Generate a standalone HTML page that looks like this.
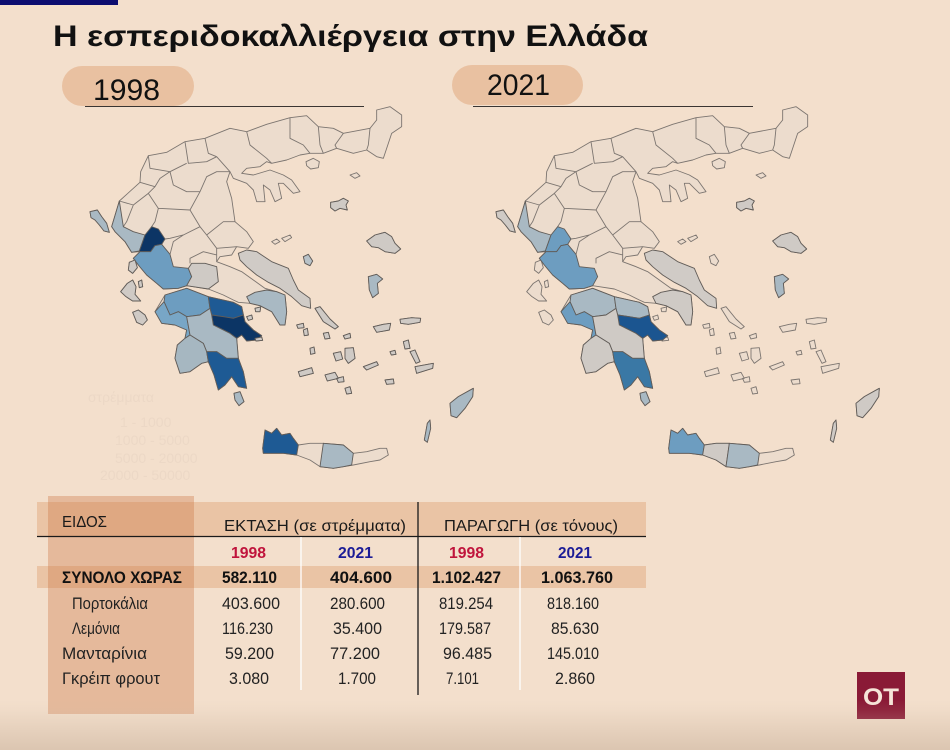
<!DOCTYPE html>
<html><head><meta charset="utf-8">
<style>
html,body{margin:0;padding:0;background:#f3dfcc;}
svg{display:block}
</style></head>
<body>
<svg width="950" height="750" viewBox="0 0 950 750" xmlns="http://www.w3.org/2000/svg" style="font-family:'Liberation Sans','Noto Sans CJK SC',sans-serif">
<defs>
  <linearGradient id="fade" x1="0" y1="0" x2="0" y2="1">
    <stop offset="0" stop-color="rgb(205,182,160)" stop-opacity="0"/>
    <stop offset="0.2" stop-color="rgb(205,182,160)" stop-opacity="0.08"/>
    <stop offset="1" stop-color="rgb(205,182,160)" stop-opacity="0.62"/>
  </linearGradient>
  <path id="mainland" d="M88,318 L150,262 L152,230 L175,182 L230,172 L285,140 L345,130 L420,100 L470,110 L530,88 L600,68 L650,62 L685,95 L730,100 L760,115 L840,100 L860,75 L860,45 L900,35 L935,60 L935,95 L905,115 L890,160 L880,190 L860,185 L830,165 L790,175 L740,160 L700,175 L660,175 L630,180 L590,195 L545,205 L530,200 L510,215 L470,220 L455,235 L490,240 L540,225 L580,240 L605,255 L630,290 L610,295 L580,265 L565,265 L575,310 L555,320 L540,285 L520,270 L525,320 L500,320 L490,285 L470,265 L430,250 L420,230 L410,260 L425,310 L435,380 L470,410 L490,440 L475,460 L440,455 L425,480 L390,485 L380,500 L420,515 L455,530 L490,555 L525,580 L560,590 L585,600 L590,650 L585,690 L570,690 L545,650 L510,632 L480,625 L445,622 L430,615 L400,600 L355,582 L310,575 L290,572 L265,580 L220,582 L200,565 L170,540 L145,510 L130,490 L150,470 L125,472 L105,440 L75,410 L65,395 Z"/>
  <path id="thesprotia" d="M65,395 L75,410 L105,440 L125,472 L148,468 L158,440 L165,420 L130,410 L100,395 L88,318 Z"/>
  <path id="arta" d="M165,420 L185,395 L205,402 L225,432 L215,448 L195,452 L182,470 L150,470 L148,468 L158,440 Z"/>
  <path id="aetolia" d="M150,470 L182,470 L195,452 L215,448 L240,478 L250,515 L295,520 L305,545 L290,572 L265,580 L220,582 L200,565 L170,540 L145,510 L130,490 Z"/>
  <path id="fokida" d="M295,520 L305,505 L345,505 L380,515 L385,560 L355,582 L310,575 L290,572 L305,545 Z"/>
  <path id="evia" d="M445,475 L470,465 L500,470 L545,500 L595,520 L610,555 L625,585 L660,610 L662,640 L635,632 L605,605 L570,580 L535,562 L500,540 L470,515 L450,495 Z"/>
  <path id="attica" d="M480,625 L470,605 L495,592 L530,585 L560,590 L585,600 L590,650 L585,690 L570,690 L545,650 L510,632 Z"/>
  <path id="pelop" d="M195,650 L225,600 L290,580 L355,605 L430,622 L455,635 L465,680 L490,705 L515,722 L500,735 L470,738 L455,720 L440,730 L445,790 L460,830 L470,880 L445,875 L425,845 L405,870 L385,885 L372,840 L355,800 L335,805 L300,830 L270,835 L255,790 L262,750 L285,730 L290,705 L255,690 L215,685 Z"/>
  <path id="achaia" d="M225,600 L290,580 L355,605 L360,640 L330,660 L290,665 L265,650 L240,660 L222,620 Z"/>
  <path id="ilia" d="M195,650 L222,620 L240,660 L265,650 L290,665 L300,720 L285,730 L290,705 L255,690 L215,685 Z"/>
  <path id="corinthia" d="M355,605 L430,622 L455,635 L460,660 L430,670 L400,665 L365,660 L360,640 Z"/>
  <path id="argolida" d="M365,660 L400,665 L430,670 L460,660 L465,680 L490,705 L515,722 L500,735 L470,738 L455,720 L440,730 L420,715 L390,700 L370,690 Z"/>
  <path id="arcadia" d="M290,665 L330,660 L360,640 L365,660 L370,690 L390,700 L420,715 L440,730 L445,790 L410,790 L380,770 L350,770 L340,745 L300,720 Z"/>
  <path id="messinia" d="M262,750 L285,730 L300,720 L340,745 L350,770 L355,800 L335,805 L300,830 L270,835 L255,790 Z"/>
  <path id="laconia" d="M350,770 L380,770 L410,790 L445,790 L460,830 L470,880 L445,875 L425,845 L405,870 L385,885 L372,840 L355,800 Z"/>
  <path id="crete" d="M518,1060 L525,1005 L545,1015 L560,1000 L575,1020 L600,1015 L610,1030 L625,1050 L660,1045 L700,1045 L760,1050 L790,1075 L830,1070 L870,1060 L890,1060 L895,1080 L870,1095 L840,1100 L790,1110 L760,1115 L730,1120 L690,1115 L660,1095 L620,1080 L580,1075 L520,1075 Z"/>
  <path id="chania" d="M518,1060 L525,1005 L545,1015 L560,1000 L575,1020 L600,1015 L610,1030 L625,1050 L620,1080 L580,1075 L520,1075 Z"/>
  <path id="rethymno" d="M625,1050 L660,1045 L700,1045 L690,1115 L660,1095 L620,1080 Z"/>
  <path id="heraklion" d="M700,1045 L760,1050 L790,1075 L785,1110 L760,1115 L730,1120 L690,1115 Z"/>
  <path id="thasos" d="M648,200 L670,190 L688,200 L685,218 L662,222 L650,212 Z"/>
  <path id="samothrace" d="M780,240 L800,233 L810,243 L795,250 Z"/>
  <path id="lemnos" d="M722,322 L745,318 L760,310 L775,318 L768,330 L772,345 L750,340 L735,348 L722,338 Z"/>
  <path id="sporades" d="M545,440 L560,432 L570,440 L555,448 Z M575,430 L600,420 L605,428 L585,440 Z"/>
  <path id="skyros" d="M640,485 L655,478 L668,498 L660,512 L645,505 Z"/>
  <path id="lesvos" d="M830,438 L855,420 L885,412 L905,425 L915,445 L932,462 L915,475 L885,470 L865,458 L845,455 Z"/>
  <path id="chios" d="M835,545 L860,538 L878,552 L862,565 L865,595 L848,608 L838,585 Z"/>
  <path id="samos" d="M850,695 L880,688 L902,685 L898,705 L860,712 Z M930,673 L965,668 L992,670 L990,682 L955,688 L932,685 Z"/>
  <path id="cyclades" d="M675,640 L690,635 L720,672 L745,695 L735,702 L700,680 Z M700,715 L715,712 L720,730 L705,732 Z M760,722 L780,715 L782,728 L765,732 Z M660,760 L672,756 L675,775 L662,778 Z M765,760 L790,758 L795,790 L775,805 L765,790 Z M730,775 L752,770 L758,792 L738,798 Z M640,705 L652,700 L655,720 L643,722 Z M625,830 L665,818 L670,835 L630,845 Z M705,840 L735,832 L745,850 L712,858 Z M820,815 L860,800 L865,810 L830,825 Z M765,880 L780,875 L785,895 L770,897 Z M740,850 L760,845 L762,860 L745,862 Z M885,855 L910,852 L912,866 L890,868 Z M620,690 L640,685 L642,698 L624,700 Z"/>
  <path id="dodec" d="M940,740 L955,735 L960,760 L945,762 Z M960,770 L975,765 L990,800 L978,805 Z M975,815 L1030,805 L1028,820 L980,835 Z M900,770 L915,766 L918,778 L904,780 Z"/>
  <path id="rhodes" d="M1080,925 L1105,905 L1150,880 L1148,905 L1125,940 L1100,968 L1083,962 Z"/>
  <path id="karpathos" d="M1003,1035 L1012,985 L1020,975 L1022,1000 L1012,1042 Z"/>
  <path id="saronic" d="M470,665 L485,660 L488,672 L475,676 Z M495,640 L512,636 L510,650 L497,650 Z M495,730 L515,726 L518,736 L498,738 Z"/>
  <path id="kythira" d="M432,895 L450,890 L462,920 L447,932 L435,915 Z"/>
  <path id="corfu" d="M0,350 L22,345 L35,365 L50,385 L58,412 L42,408 L28,390 L15,375 L3,368 Z"/>
  <path id="lefkada" d="M118,502 L135,495 L142,518 L128,535 L115,525 Z"/>
  <path id="kefalonia" d="M92,590 L112,565 L128,555 L138,575 L135,598 L152,618 L128,618 L108,605 Z M145,560 L155,555 L158,575 L148,578 Z"/>
  <path id="zakynthos" d="M128,652 L145,645 L165,660 L172,675 L158,690 L140,682 Z"/>
  <path id="borders" fill="none" d="M150,262 L195,275 L210,250 L240,230 L290,205 M175,182 L180,220 L240,230 M285,140 L295,205 L350,200 L380,185 L420,230 M345,130 L355,175 L380,185 M470,110 L480,150 L530,190 L545,205 M600,68 L600,130 L640,150 L660,175 M685,95 L690,150 L700,175 M760,115 L735,150 L740,160 M840,100 L835,150 L830,165 M88,318 L130,330 L175,295 L195,275 M175,295 L205,340 L300,345 L330,290 L350,245 L380,230 L420,230 M205,340 L195,380 L185,395 M300,345 L330,395 L350,420 L380,460 L380,500 M330,395 L280,420 L240,430 L225,432 M240,478 L250,440 L280,420 M350,420 L400,380 L435,380 M380,460 L440,455 M300,505 L300,490 L340,470 L380,480 M130,330 L110,380 L100,395 M240,230 L250,270 L290,290 L330,290"/>
  <g id="mapbase" fill="#ecdccd" stroke="#7c7570" stroke-width="2.7" stroke-linejoin="round">
    <use href="#mainland"/><use href="#pelop"/><use href="#crete"/>
    <use href="#thasos"/><use href="#samothrace"/><use href="#lemnos"/><use href="#sporades"/>
    <use href="#skyros"/><use href="#lesvos"/><use href="#chios"/><use href="#samos"/>
    <use href="#cyclades"/><use href="#dodec"/><use href="#rhodes"/><use href="#karpathos"/>
    <use href="#saronic"/><use href="#kythira"/><use href="#corfu"/><use href="#lefkada"/>
    <use href="#kefalonia"/><use href="#zakynthos"/>
    <use href="#borders"/>
  </g>
</defs>

<rect x="0" y="0" width="950" height="750" fill="#f3dfcc"/>
<rect x="0" y="0" width="118" height="5" fill="#0d0d70"/>

<text x="53" y="46" font-size="30" font-weight="bold" fill="#111" textLength="595" lengthAdjust="spacingAndGlyphs">Η εσπεριδοκαλλιέργεια στην Ελλάδα</text>

<rect x="62" y="66" width="132" height="40" rx="20" fill="#e9c1a1"/>
<text x="93" y="100" font-size="30" fill="#111" textLength="67" lengthAdjust="spacingAndGlyphs">1998</text>
<line x1="85" y1="106.5" x2="364" y2="106.5" stroke="#3a3532" stroke-width="1"/>
<rect x="452" y="65" width="131" height="40" rx="20" fill="#e9c1a1"/>
<text x="487" y="95" font-size="30" fill="#111" textLength="63" lengthAdjust="spacingAndGlyphs">2021</text>
<line x1="473" y1="106.5" x2="753" y2="106.5" stroke="#3a3532" stroke-width="1"/>

<g fill="#ecd8c6" font-size="14">
  <text x="88" y="402">στρέμματα</text>
  <text x="120" y="427">1 - 1000</text>
  <text x="115" y="445">1000 - 5000</text>
  <text x="115" y="463">5000 - 20000</text>
  <text x="100" y="480">20000 - 50000</text>
</g>

<g transform="translate(90,95) scale(0.33333)">
  <use href="#mapbase"/>
  <g stroke="#615c58" stroke-width="2.7" stroke-linejoin="round">
    <use href="#corfu" fill="#a9b9c3"/>
    <use href="#thesprotia" fill="#a9b9c3"/>
    <use href="#arta" fill="#0c3565"/>
    <use href="#aetolia" fill="#6d9dc0"/>
    <use href="#fokida" fill="#cfcac5"/>
    <use href="#evia" fill="#d0cbc6"/>
    <use href="#attica" fill="#a9b9c3"/>
    <use href="#achaia" fill="#6d9dc0"/>
    <use href="#ilia" fill="#78a6c6"/>
    <use href="#corinthia" fill="#1e5a94"/>
    <use href="#argolida" fill="#0c3565"/>
    <use href="#arcadia" fill="#a9b9c3"/>
    <use href="#messinia" fill="#a6b7c1"/>
    <use href="#laconia" fill="#1e5a94"/>
    <use href="#chania" fill="#1e5a94"/>
    <use href="#heraklion" fill="#a9b9c3"/>
    <use href="#lefkada" fill="#cfcac5"/>
    <use href="#kefalonia" fill="#cfcac5"/>
    <use href="#zakynthos" fill="#cfcac5"/>
    <use href="#kythira" fill="#a9b9c3"/>
    <use href="#lemnos" fill="#cfcac5"/>
    <use href="#lesvos" fill="#cfcac5"/>
    <use href="#chios" fill="#a9b9c3"/>
    <use href="#samos" fill="#cfcac5"/>
    <use href="#rhodes" fill="#a9b9c3"/>
    <use href="#karpathos" fill="#a9b9c3"/>
    <use href="#cyclades" fill="#cfcac5"/>
    <use href="#dodec" fill="#cfcac5"/>
    <use href="#skyros" fill="#b8c2c8"/>
    <use href="#saronic" fill="#cfcac5"/>
  </g>
</g>

<g transform="translate(496,95) scale(0.33333)">
  <use href="#mapbase"/>
  <g stroke="#615c58" stroke-width="2.7" stroke-linejoin="round">
    <use href="#corfu" fill="#cfcac5"/>
    <use href="#thesprotia" fill="#a9b9c3"/>
    <use href="#arta" fill="#6d9dc0"/>
    <use href="#aetolia" fill="#6d9dc0"/>
    <use href="#evia" fill="#d0cbc6"/>
    <use href="#attica" fill="#cfcac5"/>
    <use href="#achaia" fill="#a9b9c3"/>
    <use href="#ilia" fill="#6d9dc0"/>
    <use href="#corinthia" fill="#a9b9c3"/>
    <use href="#argolida" fill="#1b5590"/>
    <use href="#arcadia" fill="#cfcac5"/>
    <use href="#messinia" fill="#cfcac5"/>
    <use href="#laconia" fill="#3a78a5"/>
    <use href="#chania" fill="#6d9dc0"/>
    <use href="#rethymno" fill="#cfcac5"/>
    <use href="#heraklion" fill="#a9b9c3"/>
    <use href="#kythira" fill="#a9b9c3"/>
    <use href="#lemnos" fill="#cfcac5"/>
    <use href="#lesvos" fill="#cfcac5"/>
    <use href="#chios" fill="#a9b9c3"/>
    <use href="#rhodes" fill="#cfcac5"/>
    <use href="#karpathos" fill="#cfcac5"/>
  </g>
</g>

<rect x="37" y="502" width="609" height="34" fill="#eac4a5"/>
<rect x="37" y="566" width="609" height="22" fill="#eac4a5"/>
<rect x="48" y="496" width="146" height="218" fill="rgb(205,120,70)" fill-opacity="0.36"/>
<line x1="37" y1="536.5" x2="646" y2="536.5" stroke="#1a1a1a" stroke-width="1.3"/>
<line x1="418" y1="502" x2="418" y2="695" stroke="#1a1a1a" stroke-width="1.3"/>
<line x1="301" y1="537" x2="301" y2="690" stroke="#ffffff" stroke-width="1.3"/>
<line x1="520" y1="537" x2="520" y2="690" stroke="#ffffff" stroke-width="1.3"/>

<g font-size="16" fill="#1a1a1a">
  <text x="62" y="527" textLength="45" lengthAdjust="spacingAndGlyphs">ΕΙΔΟΣ</text>
  <text x="224" y="531" textLength="182" lengthAdjust="spacingAndGlyphs">ΕΚΤΑΣΗ (σε στρέμματα)</text>
  <text x="444" y="531" textLength="174" lengthAdjust="spacingAndGlyphs">ΠΑΡΑΓΩΓΗ (σε τόνους)</text>
</g>
<g font-size="16" font-weight="bold">
  <text x="231" y="558" fill="#c0143c" textLength="35" lengthAdjust="spacingAndGlyphs">1998</text>
  <text x="338" y="558" fill="#1c1c96" textLength="35" lengthAdjust="spacingAndGlyphs">2021</text>
  <text x="449" y="558" fill="#c0143c" textLength="35" lengthAdjust="spacingAndGlyphs">1998</text>
  <text x="558" y="558" fill="#1c1c96" textLength="34" lengthAdjust="spacingAndGlyphs">2021</text>
</g>
<g font-size="16.5" font-weight="bold" fill="#111">
  <text x="62" y="583" textLength="120" lengthAdjust="spacingAndGlyphs">ΣΥΝΟΛΟ ΧΩΡΑΣ</text>
  <text x="222" y="583" textLength="55" lengthAdjust="spacingAndGlyphs">582.110</text>
  <text x="330" y="583" textLength="62" lengthAdjust="spacingAndGlyphs">404.600</text>
  <text x="432" y="583" textLength="69" lengthAdjust="spacingAndGlyphs">1.102.427</text>
  <text x="541" y="583" textLength="72" lengthAdjust="spacingAndGlyphs">1.063.760</text>
</g>
<g font-size="17" fill="#222">
  <text x="72" y="609" textLength="76" lengthAdjust="spacingAndGlyphs">Πορτοκάλια</text>
  <text x="222" y="609" textLength="58" lengthAdjust="spacingAndGlyphs">403.600</text>
  <text x="330" y="609" textLength="55" lengthAdjust="spacingAndGlyphs">280.600</text>
  <text x="439" y="609" textLength="54" lengthAdjust="spacingAndGlyphs">819.254</text>
  <text x="547" y="609" textLength="52" lengthAdjust="spacingAndGlyphs">818.160</text>

  <text x="72" y="634" textLength="48" lengthAdjust="spacingAndGlyphs">Λεμόνια</text>
  <text x="222" y="634" textLength="51" lengthAdjust="spacingAndGlyphs">116.230</text>
  <text x="333" y="634" textLength="49" lengthAdjust="spacingAndGlyphs">35.400</text>
  <text x="439" y="634" textLength="52" lengthAdjust="spacingAndGlyphs">179.587</text>
  <text x="551" y="634" textLength="48" lengthAdjust="spacingAndGlyphs">85.630</text>

  <text x="62" y="659" textLength="85" lengthAdjust="spacingAndGlyphs">Μανταρίνια</text>
  <text x="225" y="659" textLength="49" lengthAdjust="spacingAndGlyphs">59.200</text>
  <text x="330" y="659" textLength="50" lengthAdjust="spacingAndGlyphs">77.200</text>
  <text x="443" y="659" textLength="49" lengthAdjust="spacingAndGlyphs">96.485</text>
  <text x="547" y="659" textLength="52" lengthAdjust="spacingAndGlyphs">145.010</text>

  <text x="62" y="684" textLength="98" lengthAdjust="spacingAndGlyphs">Γκρέιπ φρουτ</text>
  <text x="229" y="684" textLength="40" lengthAdjust="spacingAndGlyphs">3.080</text>
  <text x="338" y="684" textLength="38" lengthAdjust="spacingAndGlyphs">1.700</text>
  <text x="446" y="684" textLength="33" lengthAdjust="spacingAndGlyphs">7.101</text>
  <text x="555" y="684" textLength="40" lengthAdjust="spacingAndGlyphs">2.860</text>
</g>

<rect x="857" y="672" width="48" height="47" fill="#8a1a36"/>
<text x="863" y="705" font-size="24" font-weight="bold" fill="#f6e4d8" textLength="36" lengthAdjust="spacingAndGlyphs">OT</text>

<rect x="0" y="700" width="950" height="50" fill="url(#fade)"/>
</svg>
</body></html>
